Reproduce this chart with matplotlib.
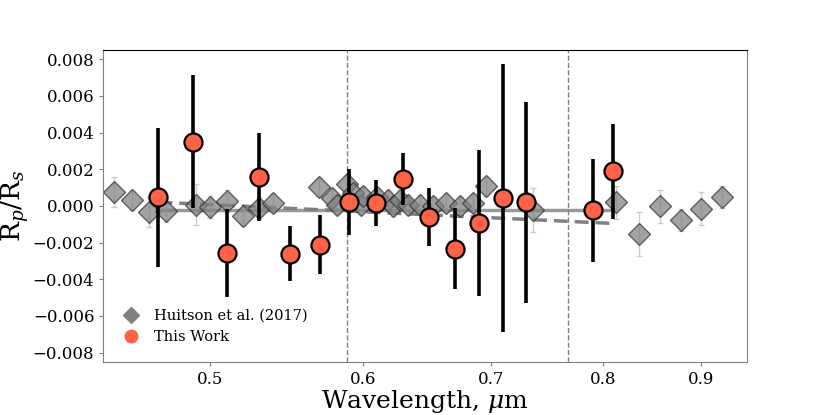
import numpy as np
import matplotlib.pyplot as plt
from matplotlib.lines import Line2D
from matplotlib.ticker import FixedLocator, FixedFormatter, NullLocator

plt.rcParams['font.family'] = 'DejaVu Serif'
plt.rcParams['mathtext.fontset'] = 'dejavuserif'

# --- Huitson et al. (2017) ---
huit_wl = [0.4457, 0.4556, 0.4645, 0.4742, 0.4914, 0.5000, 0.5101, 0.5199, 0.5300, 0.5391,
           0.5697, 0.5782, 0.5816, 0.5886, 0.5932, 0.5992, 0.6004, 0.6101, 0.6186, 0.6223,
           0.6273, 0.6336, 0.6425, 0.6530, 0.6633, 0.6738, 0.6846, 0.6956, 0.7357,
           0.8127, 0.8348, 0.8566, 0.8783, 0.8994, 0.9219]
huit_val = [0.00076, 0.00030, -0.00033, -0.00030, 0.00007, -0.00006, 0.00028, -0.00057, -0.00011, 0.00016,
            0.00103, 0.00043, 0.00007, 0.00121, 0.00070, 0.00007, 0.00052, 0.00050, 0.00034, -0.00003,
            0.00034, 0.00007, 0.00007, 0.00000, 0.00016, -0.00003, 0.00016, 0.00106, -0.00021,
            0.00019, -0.00153, -0.00003, -0.00075, -0.00015, 0.00048]
huit_err = [0.0008, 0.0005, 0.0008, 0.0006, 0.0011, 0.0006, 0.0006, 0.0005, 0.0006, 0.0005,
            0.0005, 0.0005, 0.0005, 0.0005, 0.0005, 0.0005, 0.0005, 0.0005, 0.0005, 0.0005,
            0.0005, 0.0005, 0.0005, 0.0005, 0.0005, 0.0005, 0.0005, 0.0005, 0.0012,
            0.0009, 0.0012, 0.0009, 0.0006, 0.0009, 0.0006]

# --- This Work ---
tw_wl = [0.47, 0.49, 0.51, 0.53, 0.55, 0.57, 0.59, 0.61, 0.63, 0.65, 0.67, 0.69, 0.71, 0.73, 0.79, 0.81]
tw_val = [0.00046, 0.00351, -0.00256, 0.00160, -0.00260, -0.00211, 0.00019, 0.00017,
          0.00146, -0.00060, -0.00233, -0.00093, 0.00043, 0.00019, -0.00024, 0.00188]
tw_err = [0.0038, 0.0036, 0.0024, 0.0024, 0.0015, 0.0016, 0.0018, 0.00125,
          0.0014, 0.0016, 0.0022, 0.0040, 0.0073, 0.0055, 0.0028, 0.0026]

# model lines
flat_wl = [0.47, 0.81]
flat_val = [-0.00025, -0.00025]
slope_wl = [0.47, 0.81]
slope_val = [0.00020, -0.00096]

# Na and K lines
lines_wl = [0.589, 0.767]

xticks = [0.5, 0.6, 0.7, 0.8, 0.9]
yticks = np.arange(-0.008, 0.0081, 0.002)

fig = plt.figure(figsize=(8.3, 4.15), dpi=100)
ax = fig.add_axes([0.1245, 0.1284, 0.7751, 0.7511])

for w in lines_wl:
    ax.axvline(w, color='gray', ls='--', lw=1, zorder=0)

ax.plot(flat_wl, flat_val, color='gray', lw=2.5, alpha=0.8, zorder=1)
ax.plot(slope_wl, slope_val, color='gray', lw=2.5, ls=(0, (4, 2)), zorder=1)

ax.errorbar(huit_wl, huit_val, yerr=huit_err, fmt='D', ms=11.5, mfc='gray', mec='#333333',
            mew=1, alpha=0.72, ecolor='#bbbbbb', elinewidth=1, capsize=2, zorder=2)

ax.errorbar(tw_wl, tw_val, yerr=tw_err, fmt='o', ms=13, mfc='tomato', mec='black',
            mew=1.6, ecolor='black', elinewidth=2.6, capsize=0, zorder=3)

ax.set_xscale('log')
ax.set_xlim(0.44, 0.95)
ax.set_ylim(-0.0085, 0.0085)
ax.xaxis.set_major_locator(FixedLocator(xticks))
ax.xaxis.set_major_formatter(FixedFormatter([str(t) for t in xticks]))
ax.xaxis.set_minor_locator(NullLocator())
ax.set_yticks(yticks)
ax.set_yticklabels([f'{v:.3f}'.replace('-', '\u2212') for v in yticks])

for s in ['left', 'bottom', 'right']:
    ax.spines[s].set_color('gray')
ax.spines['top'].set_color('black')
ax.tick_params(colors='gray', labelcolor='black', length=3, labelsize=12)

ax.set_xlabel('Wavelength, $\\mu$m', fontsize=18, labelpad=0)
ax.set_ylabel('R$_p$/R$_s$', fontsize=19, labelpad=1)

handles = [Line2D([], [], marker='D', color='gray', ls='none', ms=8),
           Line2D([], [], marker='o', color='tomato', ls='none', ms=9)]
ax.legend(handles, ['Huitson et al. (2017)', 'This Work'], loc='lower left',
          frameon=False, fontsize=10.5, handletextpad=0.6, bbox_to_anchor=(0.0, 0.015))

fig.savefig('out.png', dpi=100)
